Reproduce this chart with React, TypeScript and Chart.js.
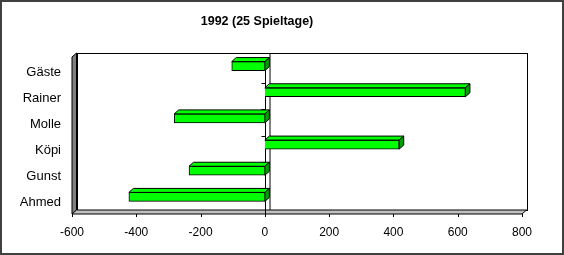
import React, { useEffect, useRef } from "react";
import { Chart, registerables } from "chart.js";

Chart.register(...registerables);

const categories = ["Gäste", "Rainer", "Molle", "Köpi", "Gunst", "Ahmed"];
const values = [-103, 624, -282, 418, -236, -423];
const xMin = -600;
const xMax = 800;
const xStep = 200;
const titleText = "1992 (25 Spieltage)";

const FONT = 'Arial, "Liberation Sans", sans-serif';
const DX = 4.5;
const DY = 4;

const decoPlugin = {
  id: "deco3d",
  beforeDatasetsDraw(chart: any) {
    const { ctx, chartArea } = chart;
    const L = chartArea.left;
    const R = chartArea.right;
    const T = chartArea.top;
    const B = chartArea.bottom;
    const xs = chart.scales.x;
    ctx.save();
    ctx.lineWidth = 1;
    ctx.strokeStyle = "#000";
    // back wall
    ctx.fillStyle = "#ffffff";
    ctx.fillRect(L + DX, T, R - L, B - T);
    ctx.strokeRect(Math.round(L + DX) + 0.5, Math.round(T) + 0.5, R - L, B - T);
    // left wall
    ctx.beginPath();
    ctx.moveTo(L, T + DY);
    ctx.lineTo(L + DX, T);
    ctx.lineTo(L + DX, B);
    ctx.lineTo(L, B + DY);
    ctx.closePath();
    ctx.fillStyle = "#808080";
    ctx.fill();
    ctx.stroke();
    // floor
    ctx.beginPath();
    ctx.moveTo(L, B + DY);
    ctx.lineTo(L + DX, B);
    ctx.lineTo(R + DX, B);
    ctx.lineTo(R, B + DY);
    ctx.closePath();
    ctx.fillStyle = "#c0c0c0";
    ctx.fill();
    ctx.stroke();
    // x tick marks on floor front edge
    for (let v = xMin; v <= xMax; v += xStep) {
      const px = Math.round(xs.getPixelForValue(v)) + 0.5;
      ctx.beginPath();
      ctx.moveTo(px, B + DY);
      ctx.lineTo(px, B + DY + 3);
      ctx.stroke();
    }
    // zero plane lines
    const x0 = Math.round(xs.getPixelForValue(0)) + 0.5;
    ctx.beginPath();
    ctx.moveTo(x0 + DX, T);
    ctx.lineTo(x0 + DX, B);
    ctx.moveTo(x0, T + DY);
    ctx.lineTo(x0, B + DY + 3);
    ctx.stroke();
    // category boundary ticks on zero axis
    const step = (B - T) / categories.length;
    for (let k = 1; k < categories.length; k++) {
      const py = Math.round(T + DY + k * step) + 0.5;
      ctx.beginPath();
      ctx.moveTo(x0 - 4, py);
      ctx.lineTo(x0, py);
      ctx.stroke();
    }
    ctx.restore();
  },
  afterDatasetsDraw(chart: any) {
    const { ctx } = chart;
    const meta = chart.getDatasetMeta(0);
    ctx.save();
    ctx.lineWidth = 1;
    ctx.strokeStyle = "#000";
    meta.data.forEach((el: any) => {
      const p = el.getProps(["x", "y", "base", "height"], true);
      const left = Math.min(p.x, p.base);
      const right = Math.max(p.x, p.base);
      const top = p.y - p.height / 2;
      const bottom = p.y + p.height / 2;
      ctx.beginPath();
      ctx.moveTo(left, top);
      ctx.lineTo(left + DX, top - DY);
      ctx.lineTo(right + DX, top - DY);
      ctx.lineTo(right, top);
      ctx.closePath();
      ctx.fillStyle = "#00ff00";
      ctx.fill();
      ctx.stroke();
      ctx.beginPath();
      ctx.moveTo(right, top);
      ctx.lineTo(right + DX, top - DY);
      ctx.lineTo(right + DX, bottom - DY);
      ctx.lineTo(right, bottom);
      ctx.closePath();
      ctx.fillStyle = "#00a000";
      ctx.fill();
      ctx.stroke();
    });
    ctx.restore();
  },
  afterDraw(chart: any) {
    const { ctx, width, height } = chart;
    ctx.save();
    ctx.strokeStyle = "#404040";
    ctx.lineWidth = 2;
    ctx.strokeRect(1, 1, width - 2, height - 2);
    ctx.restore();
  },
};

export default function App() {
  const ref = useRef<HTMLCanvasElement | null>(null);
  useEffect(() => {
    if (!ref.current) return;
    const chart = new Chart(ref.current, {
      type: "bar",
      data: {
        labels: categories,
        datasets: [
          {
            data: values,
            backgroundColor: "#00ff00",
            borderColor: "#000000",
            borderWidth: 1,
            barThickness: 9,
          },
        ],
      },
      options: {
        indexAxis: "y",
        animation: false,
        responsive: false,
        devicePixelRatio: 1,
        layout: { padding: { top: 8, left: -8, right: 42, bottom: 0 } },
        plugins: {
          legend: { display: false },
          tooltip: { enabled: false },
          title: {
            display: true,
            text: titleText,
            color: "#000",
            font: { family: FONT, size: 12.5, weight: "bold" },
            padding: { top: 6.5, bottom: 23.5 },
          },
        },
        scales: {
          x: {
            type: "linear",
            min: xMin,
            max: xMax,
            ticks: {
              stepSize: xStep,
              color: "#000",
              font: { family: FONT, size: 12 },
              padding: 15.5,
              maxRotation: 0,
            },
            grid: { display: false, drawTicks: false },
            border: { display: false },
            afterFit: (s: any) => {
              s.height = 45;
            },
          },
          y: {
            type: "category",
            ticks: {
              color: "#000",
              font: { family: FONT, size: 13 },
              padding: 11,
              labelOffset: 6,
            },
            grid: { display: false, drawTicks: false },
            border: { display: false },
            afterFit: (s: any) => {
              s.width = 80;
            },
          },
        },
      },
      plugins: [decoPlugin],
    });
    return () => chart.destroy();
  }, []);
  return (
    <div style={{ position: "absolute", left: 0, top: 0, width: 564, height: 255, background: "#fff" }}>
      <canvas ref={ref} width={564} height={255} style={{ display: "block" }} />
    </div>
  );
}
